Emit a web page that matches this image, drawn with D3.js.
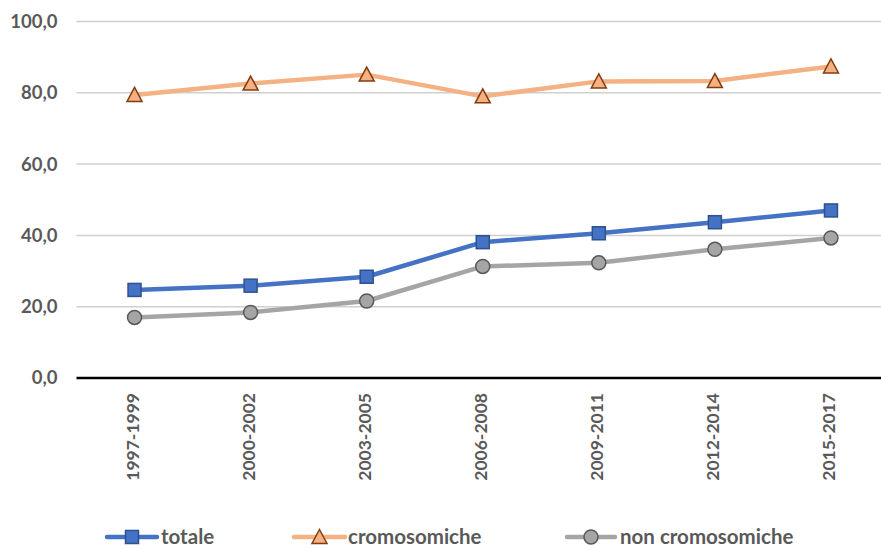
<!DOCTYPE html>
<html>
<head>
<meta charset="utf-8">
<script src="https://cdn.jsdelivr.net/npm/d3@7"></script>
<style>
  html, body { margin: 0; padding: 0; background: #fff; }
  svg { display: block; }
  text { font-family: Lato, "Open Sans", sans-serif; font-weight: 700; fill: #595959; }
</style>
</head>
<body>
<svg id="chart" width="881" height="549"></svg>
<script>
// Periods on the x axis
const periods = ["1997-1999", "2000-2002", "2003-2005", "2006-2008", "2009-2011", "2012-2014", "2015-2017"];
// Series values (%)
const totale = [24.7, 25.9, 28.4, 38.1, 40.6, 43.7, 47.0];
const cromosomiche = [79.4, 82.6, 85.1, 79.0, 83.2, 83.3, 87.4];
const nonCromosomiche = [17.0, 18.4, 21.6, 31.3, 32.3, 36.1, 39.3];
// Y axis ticks
const yTicks = [0, 20, 40, 60, 80, 100];

const series = [
  { name: "totale", values: totale, line: "#4472C4", fill: "#4472C4", stroke: "#2F528F", marker: "square" },
  { name: "cromosomiche", values: cromosomiche, line: "#F4B183", fill: "#F4B183", stroke: "#843C0C", marker: "triangle" },
  { name: "non cromosomiche", values: nonCromosomiche, line: "#A5A5A5", fill: "#A5A5A5", stroke: "#595959", marker: "circle" }
];

const svg = d3.select("#chart");
const plot = { left: 76.5, right: 889, top: 21.5, bottom: 378 };

const x = d3.scaleBand().domain(periods).range([plot.left, plot.right]);
const y = d3.scaleLinear().domain([0, 100]).range([plot.bottom, plot.top]);

// Horizontal gridlines
svg.append("g")
  .selectAll("line")
  .data(yTicks.filter(d => d > 0))
  .join("line")
  .attr("x1", plot.left).attr("x2", plot.right)
  .attr("y1", d => y(d)).attr("y2", d => y(d))
  .attr("stroke", "#D0D0D0").attr("stroke-width", 1.5);

// Y axis labels
const yAxis = d3.axisLeft(y).tickValues(yTicks)
  .tickFormat(d => d3.format(".1f")(d).replace(".", ","))
  .tickSize(0).tickPadding(19);
const yg = svg.append("g").attr("transform", `translate(${plot.left},0)`).call(yAxis);
yg.select(".domain").remove();
yg.selectAll("text").style("font-size", "18.5px").attr("fill", "#595959");

// X axis (baseline + rotated labels)
const xAxis = d3.axisBottom(x).tickSize(0).tickPadding(0);
const xg = svg.append("g").attr("transform", `translate(0,${plot.bottom})`).call(xAxis);
xg.select(".domain").attr("stroke", "#000").attr("stroke-width", 2.5)
  .attr("d", `M${plot.left},0H${plot.right}`);
xg.selectAll("text")
  .style("font-size", "17.5px")
  .attr("fill", "#595959")
  .attr("text-anchor", "end")
  .attr("dy", null)
  .attr("transform", "translate(0,15) rotate(-90)")
  .attr("x", 0).attr("y", 0)
  .attr("dominant-baseline", "middle");

const cx = d => x(d) + x.bandwidth() / 2;

function drawMarker(g, type, fill, stroke) {
  if (type === "square") {
    g.append("rect").attr("x", -6.5).attr("y", -6.5).attr("width", 13).attr("height", 13)
      .attr("fill", fill).attr("stroke", stroke).attr("stroke-width", 1.5);
  } else if (type === "triangle") {
    g.append("path").attr("d", "M0,-7.5L7.5,6.5L-7.5,6.5Z")
      .attr("fill", fill).attr("stroke", stroke).attr("stroke-width", 1.5);
  } else {
    g.append("circle").attr("r", 7).attr("fill", fill).attr("stroke", stroke).attr("stroke-width", 1.5);
  }
}

const line = d3.line().x((d, i) => cx(periods[i])).y(d => y(d));

series.forEach(s => {
  svg.append("path").datum(s.values)
    .attr("d", line)
    .attr("fill", "none").attr("stroke", s.line).attr("stroke-width", 4.5)
    .attr("stroke-linejoin", "round");
  s.values.forEach((v, i) => {
    const g = svg.append("g").attr("transform", `translate(${cx(periods[i])},${y(v)})`);
    drawMarker(g, s.marker, s.fill, s.stroke);
  });
});

// Legend
const legendY = 537;
const legendItems = [
  { s: series[0], x0: 107, x1: 157, tx: 161 },
  { s: series[1], x0: 294, x1: 345, tx: 348 },
  { s: series[2], x0: 567, x1: 615, tx: 620 }
];
legendItems.forEach(it => {
  const g = svg.append("g");
  g.append("line").attr("x1", it.x0).attr("x2", it.x1).attr("y1", legendY).attr("y2", legendY)
    .attr("stroke", it.s.line).attr("stroke-width", 4.5).attr("stroke-linecap", "round");
  const m = g.append("g").attr("transform", `translate(${(it.x0 + it.x1) / 2},${legendY})`);
  drawMarker(m, it.s.marker, it.s.fill, it.s.stroke);
  g.append("text").attr("x", it.tx).attr("y", legendY).attr("dy", "0.36em")
    .style("font-size", "20.5px").text(it.s.name);
});
</script>
</body>
</html>
